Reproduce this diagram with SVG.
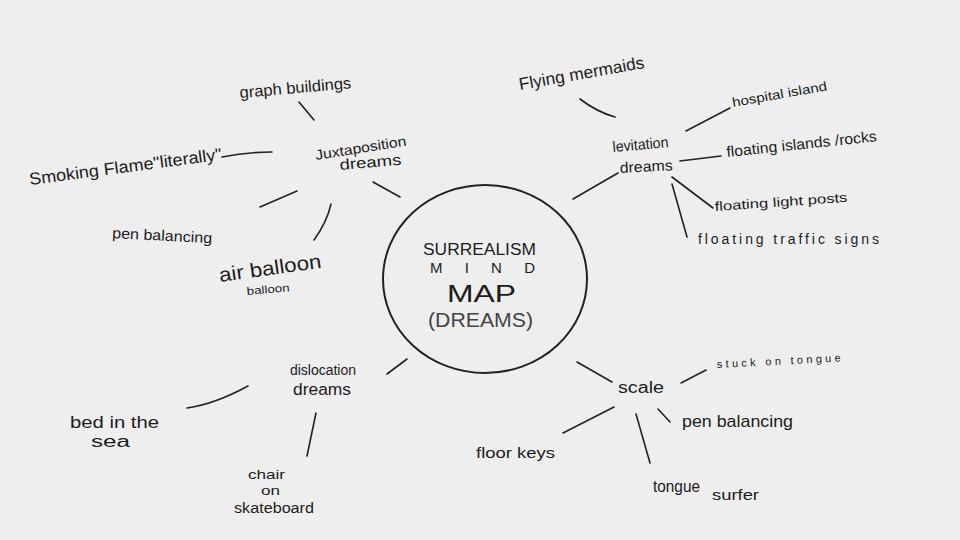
<svg xmlns="http://www.w3.org/2000/svg" width="960" height="540" viewBox="0 0 960 540">
<style>
text{font-family:"Liberation Sans","DejaVu Sans",sans-serif;fill:#1c1c1c;}
.c line,.c path{stroke:#222;stroke-width:1.6;stroke-linecap:round;fill:none;}
.hub{fill:none;stroke:#222;stroke-width:2;}
</style>
<rect width="960" height="540" fill="#eeeeee"/>
<g id="connectors" class="c">
<line x1="299" y1="102" x2="314" y2="120"/>
<path d="M222 157 Q245 152 272 152"/>
<line x1="260" y1="207" x2="297" y2="191"/>
<path d="M314 240 Q327 222 331 204"/>
<line x1="373" y1="182" x2="400" y2="197"/>
<path d="M580 99 Q597 112 615 117"/>
<line x1="686" y1="131" x2="730" y2="108"/>
<line x1="680" y1="161" x2="721" y2="156"/>
<line x1="672" y1="177" x2="713" y2="208"/>
<line x1="672" y1="184" x2="687" y2="237"/>
<line x1="573" y1="199" x2="618" y2="173"/>
<path d="M187 408 Q215 404 248 386"/>
<line x1="316" y1="413" x2="307" y2="456"/>
<line x1="387" y1="374" x2="407" y2="359"/>
<line x1="577" y1="362" x2="612" y2="382"/>
<line x1="681" y1="383" x2="706" y2="370"/>
<line x1="658" y1="409" x2="670" y2="422"/>
<line x1="563" y1="433" x2="614" y2="407"/>
<line x1="636" y1="414" x2="650" y2="463"/>
</g>
<g id="center">
<ellipse class="hub" cx="485" cy="279" rx="102" ry="94"/>
<text x="423" y="255" font-size="16" textLength="113" lengthAdjust="spacingAndGlyphs">SURREALISM</text>
<text x="430" y="273" font-size="15" textLength="105" lengthAdjust="spacing">MIND</text>
<text x="447" y="302" font-size="24" textLength="69" lengthAdjust="spacingAndGlyphs">MAP</text>
<text x="428" y="327" font-size="20" textLength="105" lengthAdjust="spacingAndGlyphs" style="fill:#444">(DREAMS)</text>
</g>
<g id="juxtaposition">
<text transform="rotate(-9 316 160)" x="316" y="160" font-size="14" textLength="92" lengthAdjust="spacingAndGlyphs">Juxtaposition</text>
<text transform="rotate(-5 340 170)" x="340" y="170" font-size="15" textLength="62" lengthAdjust="spacingAndGlyphs">dreams</text>
</g>
<g id="graph-buildings">
<text transform="rotate(-5 240 98)" x="240" y="98" font-size="16" textLength="112" lengthAdjust="spacingAndGlyphs">graph buildings</text>
</g>
<g id="smoking-flame">
<text transform="rotate(-7.5 30 185)" x="30" y="185" font-size="17" textLength="194" lengthAdjust="spacingAndGlyphs">Smoking Flame"literally"</text>
</g>
<g id="pen-balancing-1">
<text transform="rotate(3 112 238)" x="112" y="238" font-size="15" textLength="100" lengthAdjust="spacingAndGlyphs">pen balancing</text>
</g>
<g id="air-balloon">
<text transform="rotate(-8 220 282)" x="220" y="282" font-size="20" textLength="103" lengthAdjust="spacingAndGlyphs">air balloon</text>
<text transform="rotate(-5 247 295)" x="247" y="295" font-size="11" textLength="43" lengthAdjust="spacingAndGlyphs">balloon</text>
</g>
<g id="levitation">
<text transform="rotate(-5 613 152)" x="613" y="152" font-size="15" textLength="56" lengthAdjust="spacingAndGlyphs">levitation</text>
<text transform="rotate(-3 620 173)" x="620" y="173" font-size="15" textLength="53" lengthAdjust="spacingAndGlyphs">dreams</text>
</g>
<g id="flying-mermaids">
<text transform="rotate(-10 520 90)" x="520" y="90" font-size="17" textLength="127" lengthAdjust="spacingAndGlyphs">Flying mermaids</text>
</g>
<g id="hospital-island">
<text transform="rotate(-10 733 107)" x="733" y="107" font-size="13" textLength="96" lengthAdjust="spacingAndGlyphs">hospital island</text>
</g>
<g id="floating-islands">
<text transform="rotate(-6 727 157)" x="727" y="157" font-size="15" textLength="151" lengthAdjust="spacingAndGlyphs">floating islands /rocks</text>
</g>
<g id="floating-light-posts">
<text transform="rotate(-4 715 211)" x="715" y="211" font-size="13" textLength="133" lengthAdjust="spacingAndGlyphs">floating light posts</text>
</g>
<g id="floating-traffic-signs">
<text x="698" y="244" font-size="14" textLength="181" lengthAdjust="spacing">floating traffic signs</text>
</g>
<g id="dislocation">
<text x="290" y="375" font-size="14" textLength="66" lengthAdjust="spacingAndGlyphs">dislocation</text>
<text x="293" y="395" font-size="16" textLength="58" lengthAdjust="spacingAndGlyphs">dreams</text>
</g>
<g id="bed-in-the-sea">
<text x="70" y="428" font-size="16" textLength="89" lengthAdjust="spacingAndGlyphs">bed in the</text>
<text x="91" y="447" font-size="16" textLength="39" lengthAdjust="spacingAndGlyphs">sea</text>
</g>
<g id="chair-on-skateboard">
<text x="248" y="479" font-size="13" textLength="37" lengthAdjust="spacingAndGlyphs">chair</text>
<text x="261" y="495" font-size="12" textLength="19" lengthAdjust="spacingAndGlyphs">on</text>
<text x="234" y="513" font-size="14" textLength="80" lengthAdjust="spacingAndGlyphs">skateboard</text>
</g>
<g id="scale">
<text x="618" y="393" font-size="16" textLength="46" lengthAdjust="spacingAndGlyphs">scale</text>
</g>
<g id="stuck-on-tongue">
<text transform="rotate(-3 717 368)" x="717" y="368" font-size="11" textLength="124" lengthAdjust="spacing">stuck on tongue</text>
</g>
<g id="pen-balancing-2">
<text x="682" y="427" font-size="17" textLength="111" lengthAdjust="spacingAndGlyphs">pen balancing</text>
</g>
<g id="floor-keys">
<text x="476" y="458" font-size="14" textLength="79" lengthAdjust="spacingAndGlyphs">floor keys</text>
</g>
<g id="tongue-surfer">
<text x="653" y="492" font-size="17" textLength="47" lengthAdjust="spacingAndGlyphs">tongue</text>
<text x="712" y="500" font-size="14" textLength="47" lengthAdjust="spacingAndGlyphs">surfer</text>
</g>
</svg>
